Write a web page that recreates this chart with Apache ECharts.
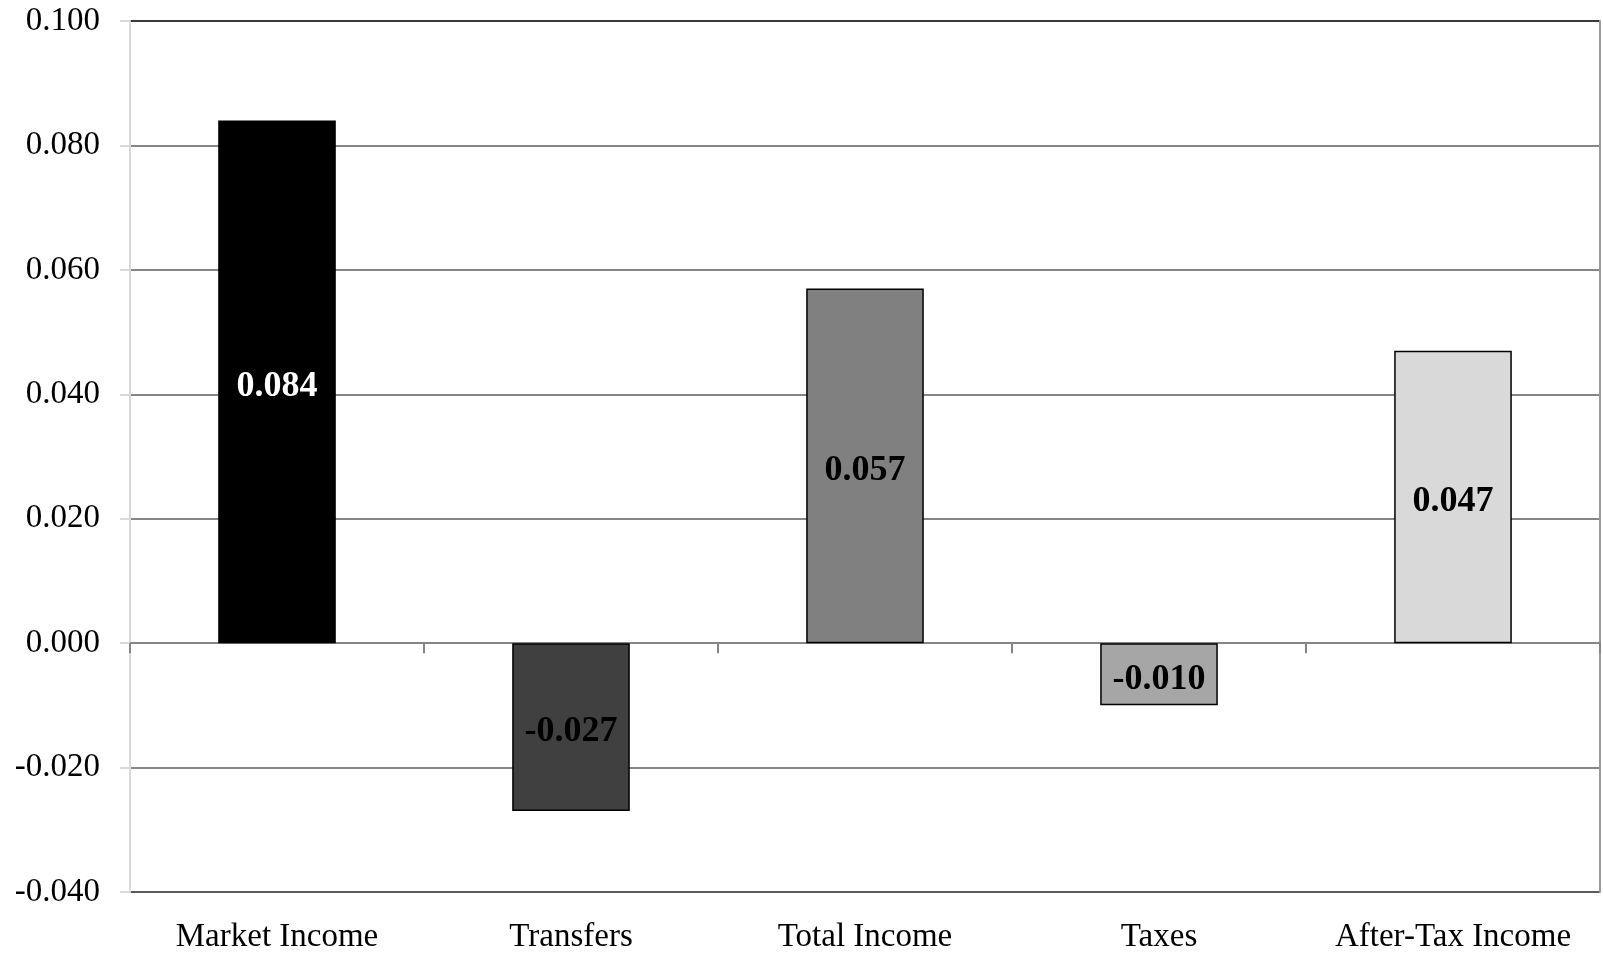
<!DOCTYPE html>
<html>
<head>
<meta charset="utf-8">
<script src="https://cdn.jsdelivr.net/npm/echarts@6/dist/echarts.min.js"></script>
<style>
  html, body { margin: 0; padding: 0; background: #fff; }
  #chart { width: 1603px; height: 954px; }
</style>
</head>
<body>
<div id="chart"></div>
<script>
const categories = ['Market Income', 'Transfers', 'Total Income', 'Taxes', 'After-Tax Income'];
const values = [0.084, -0.027, 0.057, -0.010, 0.047];
const yMin = -0.04;
const yMax = 0.10;
const yStep = 0.02;

const barColors = ['#000000', '#404040', '#808080', '#a6a6a6', '#d9d9d9'];
const labelColors = ['#ffffff', '#000000', '#000000', '#000000', '#000000'];
const FONT = '"Liberation Serif", "DejaVu Serif", serif';

const chart = echarts.init(document.getElementById('chart'), null, { renderer: 'canvas' });

chart.setOption({
  animation: false,
  backgroundColor: '#ffffff',
  grid: { left: 130, right: 3, top: 21, bottom: 58, containLabel: false },
  xAxis: [
    {
      type: 'category',
      data: categories,
      position: 'bottom',
      axisLine: { show: false, onZero: false },
      axisTick: { show: false },
      axisLabel: { interval: 0, fontFamily: FONT, fontSize: 33, color: '#000', margin: 29 },
      splitLine: { show: false }
    },
    {
      type: 'category',
      data: categories,
      position: 'top',
      axisLine: { show: true, onZero: true, lineStyle: { color: '#868686', width: 2 } },
      axisTick: { show: true, inside: true, length: 10, lineStyle: { color: '#868686', width: 2 } },
      axisLabel: { show: false },
      splitLine: { show: false }
    }
  ],
  yAxis: [
    {
      type: 'value',
      min: yMin,
      max: yMax,
      interval: yStep,
      axisLine: { show: true, lineStyle: { color: '#d9d9d9', width: 2 } },
      axisTick: { show: true, length: 10, lineStyle: { color: '#d9d9d9', width: 2 } },
      axisLabel: {
        fontFamily: FONT, fontSize: 33, color: '#000', margin: 30,
        formatter: v => v.toFixed(3)
      },
      splitLine: {
        show: true,
        lineStyle: {
          color: ['#5a5a5a', '#868686', '#868686', '#868686', '#868686', '#868686', '#868686', '#3a3a3a'],
          width: 2
        }
      }
    },
    {
      type: 'value',
      min: yMin,
      max: yMax,
      interval: yStep,
      position: 'right',
      axisLine: { show: true, lineStyle: { color: '#9a9a9a', width: 2 } },
      axisTick: { show: false },
      axisLabel: { show: false },
      splitLine: { show: false }
    }
  ],
  series: [
    {
      type: 'bar',
      xAxisIndex: 0,
      yAxisIndex: 0,
      barWidth: '40%',
      data: values.map((v, i) => ({
        value: v,
        itemStyle: { color: barColors[i], borderColor: '#000', borderWidth: 1.5 },
        label: { color: labelColors[i] }
      })),
      label: {
        show: true,
        position: 'inside',
        offset: [0, 5],
        fontFamily: FONT,
        fontSize: 36,
        fontWeight: 'bold',
        formatter: p => p.value.toFixed(3)
      }
    }
  ]
});
</script>
</body>
</html>
